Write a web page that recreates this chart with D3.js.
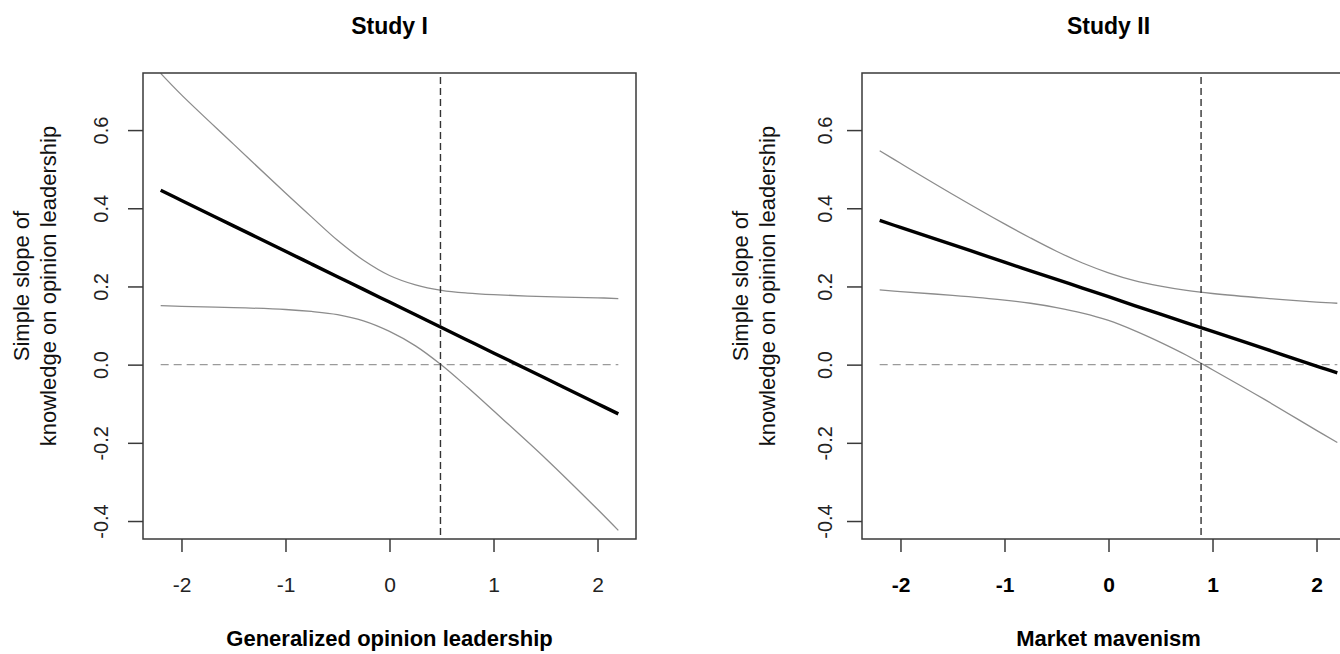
<!DOCTYPE html>
<html>
<head>
<meta charset="utf-8">
<script src="https://cdn.jsdelivr.net/npm/d3@7"></script>
<style>
  html, body { margin: 0; padding: 0; background: #fff; }
  svg { display: block; }
  text { font-family: "Liberation Sans", Arial, Helvetica, sans-serif; }
</style>
</head>
<body>
<svg id="chart" width="1340" height="654"></svg>
<script>
// ---- data ----
const xTicks = [-2, -1, 0, 1, 2];
const xTickLabels = ["-2", "-1", "0", "1", "2"];
const yTicks = [-0.4, -0.2, 0.0, 0.2, 0.4, 0.6];
const yTickLabels = ["-0.4", "-0.2", "0.0", "0.2", "0.4", "0.6"];

const titles = ["Study I", "Study II"];
const xLabels = ["Generalized opinion leadership", "Market mavenism"];
const yLabelLines = ["Simple slope of", "knowledge on opinion leadership"];

const moderatorX = [-2.2, -2.0, -1.5, -1.0, -0.75, -0.5, -0.25, 0, 0.25, 0.5, 0.75, 1.0, 1.5, 2.0, 2.2];

const study1Slope = [0.446, 0.420, 0.355, 0.290, 0.2575, 0.225, 0.1925, 0.160, 0.1275, 0.095, 0.0625, 0.030, -0.035, -0.100, -0.126];
const study1Upper = [0.745, 0.690, 0.564, 0.439, 0.378, 0.318, 0.267, 0.228, 0.204, 0.190, 0.183, 0.179, 0.174, 0.171, 0.169];
const study1Lower = [0.151, 0.149, 0.146, 0.141, 0.136, 0.128, 0.112, 0.085, 0.048, -0.001, -0.058, -0.118, -0.240, -0.370, -0.424];

const study2Slope = [0.369, 0.351, 0.307, 0.262, 0.240, 0.218, 0.196, 0.174, 0.151, 0.129, 0.107, 0.085, 0.041, -0.004, -0.021];
const study2Upper = [0.547, 0.515, 0.436, 0.360, 0.324, 0.290, 0.260, 0.235, 0.215, 0.201, 0.190, 0.182, 0.170, 0.160, 0.157];
const study2Lower = [0.191, 0.187, 0.177, 0.165, 0.157, 0.146, 0.132, 0.113, 0.087, 0.057, 0.024, -0.013, -0.089, -0.168, -0.199];

const regionOfSignificance = [0.49, 0.89];

// ---- layout ----
const svg = d3.select("#chart");
const panelLefts = [143, 862];
const boxW = 493, boxTop = 73, boxBottom = 539;
const xDomain = [-2.37, 2.37];
const yDomain = [-0.446, 0.746];

const panels = [
  { slope: study1Slope, upper: study1Upper, lower: study1Lower, cut: regionOfSignificance[0], boldX: false, tickOff: 35 },
  { slope: study2Slope, upper: study2Upper, lower: study2Lower, cut: regionOfSignificance[1], boldX: true, tickOff: 30 }
];

panels.forEach((p, i) => {
  const left = panelLefts[i];
  const x = d3.scaleLinear().domain(xDomain).range([left, left + boxW]);
  const y = d3.scaleLinear().domain(yDomain).range([boxBottom, boxTop]);
  const g = svg.append("g");

  const line = d3.line().x(d => x(d[0])).y(d => y(d[1])).curve(d3.curveCatmullRom.alpha(0.5));

  // zero reference line
  g.append("line")
    .attr("x1", x(moderatorX[0])).attr("x2", x(moderatorX[moderatorX.length - 1]))
    .attr("y1", y(0)).attr("y2", y(0))
    .attr("stroke", "#9a9a9a").attr("stroke-width", 1.2).attr("stroke-dasharray", "8,5");

  // CI bands
  [p.upper, p.lower].forEach(arr => {
    g.append("path")
      .datum(moderatorX.map((v, k) => [v, arr[k]]))
      .attr("d", line)
      .attr("fill", "none").attr("stroke", "#8c8c8c").attr("stroke-width", 1.3);
  });

  // simple slope line
  g.append("path")
    .datum(moderatorX.map((v, k) => [v, p.slope[k]]))
    .attr("d", line)
    .attr("fill", "none").attr("stroke", "#000").attr("stroke-width", 3.4);

  // vertical dashed line
  g.append("line")
    .attr("x1", x(p.cut)).attr("x2", x(p.cut))
    .attr("y1", boxTop + 4).attr("y2", boxBottom)
    .attr("stroke", "#333").attr("stroke-width", 1.4).attr("stroke-dasharray", "7,4");

  // box
  g.append("rect")
    .attr("x", left).attr("y", boxTop).attr("width", boxW).attr("height", boxBottom - boxTop)
    .attr("fill", "none").attr("stroke", "#3a3a3a").attr("stroke-width", 1.5);

  // x axis
  const xAxis = d3.axisBottom(x).tickValues(xTicks).tickSize(13).tickPadding(0)
    .tickFormat((d, k) => xTickLabels[k]);
  const gx = g.append("g").attr("transform", `translate(0,${boxBottom})`).call(xAxis);
  gx.select(".domain").remove();
  gx.selectAll(".tick line").attr("stroke", "#3a3a3a").attr("stroke-width", 1.5);
  gx.selectAll(".tick text")
    .attr("y", 53).attr("dy", null)
    .attr("font-size", 21)
    .attr("font-weight", p.boldX ? "bold" : "normal")
    .attr("fill", p.boldX ? "#000" : "#222");

  // y axis
  const yAxis = d3.axisLeft(y).tickValues(yTicks).tickSize(15).tickPadding(0)
    .tickFormat((d, k) => yTickLabels[k]);
  const gy = g.append("g").attr("transform", `translate(${left},0)`).call(yAxis);
  gy.select(".domain").remove();
  gy.selectAll(".tick line").attr("stroke", "#3a3a3a").attr("stroke-width", 1.5);
  gy.selectAll(".tick text")
    .attr("x", null).attr("dy", null)
    .attr("text-anchor", "middle")
    .attr("font-size", 20)
    .attr("fill", "#222")
    .attr("transform", `translate(${-p.tickOff},0) rotate(-90)`);

  // title
  g.append("text")
    .attr("x", left + boxW / 2).attr("y", 34)
    .attr("text-anchor", "middle")
    .attr("font-size", 23).attr("font-weight", "bold")
    .text(titles[i]);

  // x label
  g.append("text")
    .attr("x", left + boxW / 2).attr("y", 646)
    .attr("text-anchor", "middle")
    .attr("font-size", 22).attr("font-weight", "bold")
    .text(xLabels[i]);

  // y label (two lines)
  const yc = 286;
  const baseX = [left - 143 + 29, left - 143 + 56];
  yLabelLines.forEach((t, k) => {
    g.append("text")
      .attr("transform", `translate(${baseX[k]},${yc}) rotate(-90)`)
      .attr("text-anchor", "middle")
      .attr("font-size", 22)
      .attr("fill", "#111")
      .text(t);
  });
});
</script>
</body>
</html>
